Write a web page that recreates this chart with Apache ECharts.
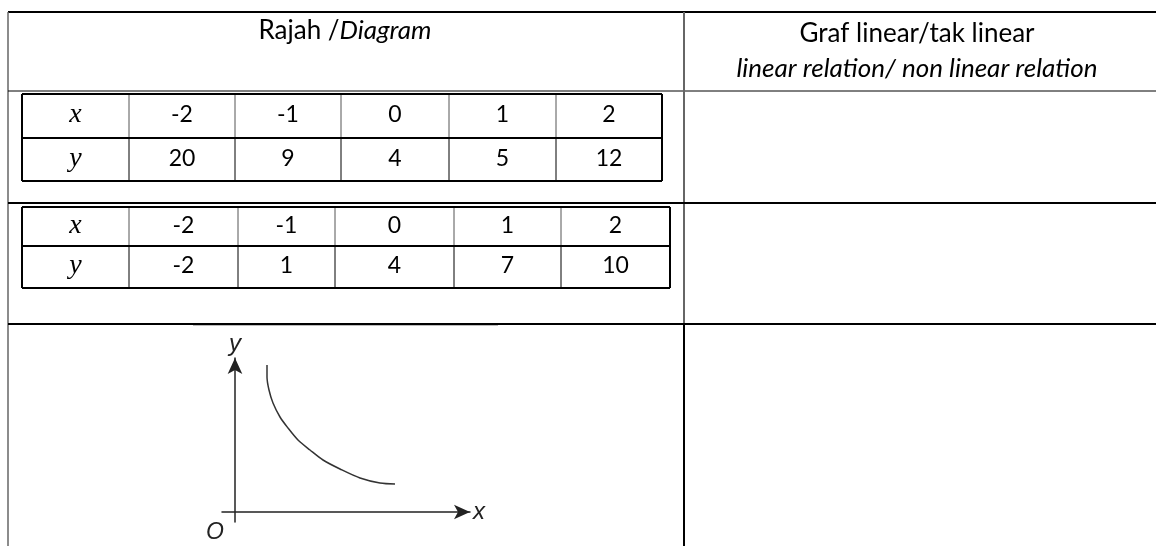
<!DOCTYPE html>
<html>
<head>
<meta charset="utf-8">
<script src="https://cdn.jsdelivr.net/npm/echarts@6/dist/echarts.min.js"></script>
<style>
  html, body { margin: 0; padding: 0; background: #fff; }
  #chart { width: 1156px; height: 546px; }
</style>
</head>
<body>
<div id="chart"></div>
<script>
// table contents
const xRow = ['-2', '-1', '0', '1', '2']
const yRow1 = [20, 9, 4, 5, 12]
const yRow2 = [-2, 1, 4, 7, 10]
const rowLabels = ['x', 'y']

// header texts
const headLeft = ['Rajah /', 'Diagram']
const headRight = ['Graf linear/tak linear', 'linear relation/ non linear relation']

// sketch of the curve in the third row
const curveX = [0.32, 0.32, 0.34, 0.38, 0.45, 0.53, 0.63, 0.75, 0.88, 1.05, 1.25, 1.45, 1.60]
const curveY = [1.47, 1.35, 1.22, 1.09, 0.95, 0.84, 0.72, 0.62, 0.52, 0.43, 0.34, 0.29, 0.28]

const font = 'Lato'
const mathFont = 'Liberation Serif'

const chart = echarts.init(document.getElementById('chart'))

function line(x1, y1, x2, y2, color, width) {
  return {
    type: 'line',
    shape: { x1: x1, y1: y1, x2: x2, y2: y2 },
    style: { stroke: color, lineWidth: width },
    silent: true
  }
}

function text(x, y, str, opts) {
  return {
    type: 'text',
    x: x,
    y: y,
    style: Object.assign({
      text: str,
      fill: '#000',
      font: '23px ' + font,
      align: 'center',
      verticalAlign: 'middle'
    }, opts || {}),
    silent: true
  }
}

// one small x / y table
function valueTable(cols, rows, yVals) {
  const els = []
  const left = cols[0], right = cols[cols.length - 1]
  const top = rows[0], bottom = rows[rows.length - 1]
  // inner lines
  for (let i = 1; i < cols.length - 1; i++) {
    els.push(line(cols[i], top, cols[i], rows[1], '#555', 1))
    els.push(line(cols[i], rows[1], cols[i], bottom, '#000', 1))
  }
  els.push(line(left, rows[1], right, rows[1], '#000', 2))
  // frame
  els.push(line(left, top, right, top, '#000', 2))
  els.push(line(left, bottom, right, bottom, '#000', 2))
  els.push(line(left, top, left, bottom, '#000', 2))
  els.push(line(right, top, right, bottom, '#000', 2))
  const rowVals = [xRow, yVals]
  for (let r = 0; r < 2; r++) {
    const cy = (rows[r] + rows[r + 1]) / 2
    els.push(text((cols[0] + cols[1]) / 2, cy - 1, rowLabels[r],
      { font: 'italic 28px ' + mathFont }))
    rowVals[r].forEach(function (v, i) {
      els.push(text((cols[i + 1] + cols[i + 2]) / 2, cy - 1, String(v)))
    })
  }
  return els
}

let graphics = []
// outer frame
graphics.push(line(8, 12, 1156, 12, '#000', 2))
graphics.push(line(8, 12, 8, 546, '#666', 1.5))
graphics.push(line(8, 91, 1156, 91, '#000', 1))
graphics.push(line(684, 12, 684, 324, '#666', 2))
graphics.push(line(684, 324, 684, 546, '#000', 2))
graphics.push(line(8, 203, 1156, 203, '#000', 2))
graphics.push(line(8, 324, 1156, 324, '#000', 2))
graphics.push(line(193, 325.5, 498, 325.5, '#bbb', 1))

// headers
graphics.push({
  type: 'text',
  x: 345,
  y: 31,
  style: {
    text: '{r|' + headLeft[0] + '}{i|' + headLeft[1] + '}',
    align: 'center',
    verticalAlign: 'middle',
    rich: {
      r: { font: '26px ' + font, fill: '#000' },
      i: { font: 'italic 26px ' + font, fill: '#000' }
    }
  },
  silent: true
})
graphics.push(text(917, 34, headRight[0], { font: '26px ' + font }))
graphics.push(text(917, 69, headRight[1], { font: 'italic 26px ' + font }))

graphics = graphics.concat(valueTable([22, 129, 235, 341, 449, 556, 662], [94, 138, 181], yRow1))
graphics = graphics.concat(valueTable([22, 129, 238, 335, 454, 561, 670], [207, 246, 288], yRow2))

// origin label
graphics.push(text(215, 533, 'O', { font: 'italic 23px Liberation Sans', fill: '#222' }))

const axisStyle = { color: '#222', width: 1.5 }
const axisName = { fontFamily: 'Liberation Sans', fontStyle: 'italic', fontSize: 24, color: '#222' }

const option = {
  animation: false,
  backgroundColor: '#fff',
  graphic: graphics,
  grid: { left: 222, top: 358, width: 248, height: 164 },
  xAxis: {
    type: 'value',
    min: -0.13,
    max: 2.35,
    name: 'x',
    nameLocation: 'end',
    nameGap: 3,
    nameTextStyle: Object.assign({ verticalAlign: 'middle' }, axisName),
    axisLine: { onZero: true, lineStyle: axisStyle, symbol: ['none', 'arrow'], symbolSize: [11, 16] },
    axisTick: { show: false },
    axisLabel: { show: false },
    splitLine: { show: false }
  },
  yAxis: {
    type: 'value',
    min: -0.1,
    max: 1.54,
    name: 'y',
    nameLocation: 'end',
    nameGap: 2,
    nameTextStyle: Object.assign({ align: 'center' }, axisName),
    axisLine: { onZero: true, lineStyle: axisStyle, symbol: ['none', 'arrow'], symbolSize: [11, 16] },
    axisTick: { show: false },
    axisLabel: { show: false },
    splitLine: { show: false }
  },
  series: [
    {
      type: 'line',
      data: curveX.map(function (x, i) { return [x, curveY[i]] }),
      smooth: 0.3,
      showSymbol: false,
      lineStyle: { color: '#333', width: 1.5 }
    }
  ]
}

chart.setOption(option)
</script>
</body>
</html>
